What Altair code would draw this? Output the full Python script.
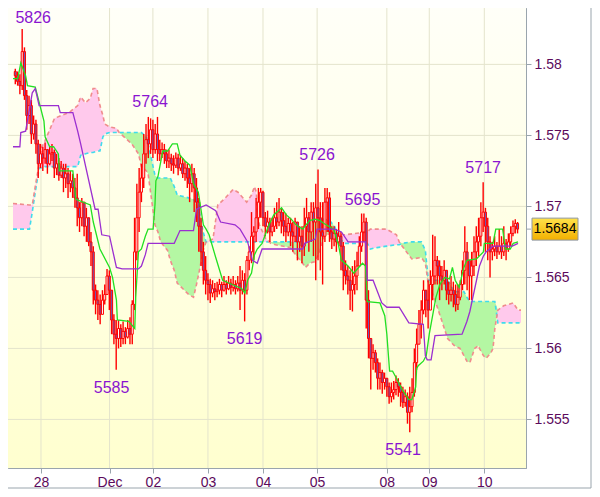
import altair as alt
import pandas as pd

# ---------------- data (prices in points: 5826 -> 1.5826) ----------------
first_open_pts = 5795
close_pts = [5792,5788,5785,5809,5778,5764,5771,5751,5758,5744,
             5730,5737,5734,5740,5730,5737,5738,5727,5730,5722,
             5727,5720,5723,5716,5718,5713,5706,5699,5692,5703,
             5686,5692,5675,5668,5641,5634,5631,5624,5634,5638,
             5651,5641,5620,5610,5607,5614,5607,5612,5608,5614,
             5610,5631,5668,5692,5710,5720,5737,5747,5744,5754,
             5740,5751,5740,5737,5740,5737,5732,5734,5730,5729,
             5734,5727,5730,5723,5727,5720,5716,5723,5713,5703,
             5686,5668,5655,5648,5645,5639,5642,5640,5641,5645,
             5641,5645,5642,5646,5643,5645,5642,5646,5641,5648,
             5641,5662,5668,5679,5682,5692,5703,5710,5692,5686,
             5689,5682,5686,5692,5689,5696,5690,5686,5682,5688,
             5682,5679,5689,5675,5679,5672,5686,5692,5682,5696,
             5689,5699,5692,5682,5679,5703,5706,5682,5677,5681,
             5675,5679,5672,5655,5651,5648,5641,5645,5651,5658,
             5672,5682,5689,5634,5607,5593,5597,5590,5579,5583,
             5576,5579,5573,5566,5569,5571,5576,5573,5569,5562,
             5566,5555,5559,5569,5590,5603,5617,5627,5641,5634,
             5627,5645,5651,5662,5658,5651,5648,5655,5641,5638,
             5641,5638,5631,5636,5645,5655,5668,5662,5651,5658,
             5668,5675,5679,5692,5696,5686,5675,5668,5670,5672,
             5668,5672,5668,5674,5670,5675,5681,5686,5688,5684]
high_pts = [5797,5795,5793,5825,5812,5782,5778,5775,5764,5761,
            5747,5744,5742,5745,5740,5742,5744,5740,5737,5734,
            5732,5730,5730,5727,5725,5723,5720,5723,5703,5706,
            5699,5699,5692,5682,5672,5645,5641,5638,5641,5645,
            5656,5655,5638,5624,5620,5620,5617,5619,5615,5620,
            5622,5634,5692,5716,5727,5730,5751,5758,5763,5762,
            5761,5758,5763,5747,5745,5744,5740,5740,5737,5736,
            5738,5737,5736,5734,5732,5730,5727,5730,5727,5720,
            5706,5692,5675,5665,5653,5649,5648,5646,5647,5649,
            5647,5651,5648,5651,5649,5651,5648,5651,5658,5655,
            5653,5665,5672,5696,5686,5706,5713,5713,5711,5696,
            5697,5692,5692,5699,5703,5706,5699,5696,5695,5692,
            5692,5689,5692,5689,5686,5686,5699,5706,5696,5703,
            5703,5716,5726,5703,5703,5713,5713,5710,5686,5686,
            5684,5689,5682,5675,5662,5658,5655,5658,5662,5668,
            5679,5695,5695,5692,5641,5607,5603,5599,5593,5590,
            5585,5583,5579,5576,5576,5577,5581,5579,5576,5573,
            5571,5569,5573,5579,5600,5614,5627,5634,5648,5641,
            5648,5655,5680,5679,5665,5662,5658,5662,5655,5647,
            5651,5647,5645,5645,5648,5662,5686,5675,5660,5668,
            5679,5686,5692,5703,5717,5699,5692,5679,5675,5679,
            5675,5684,5679,5686,5677,5681,5686,5690,5691,5689]
low_pts = [5786,5785,5779,5782,5775,5754,5758,5744,5747,5737,
           5720,5727,5725,5730,5723,5729,5732,5720,5722,5718,
           5720,5710,5713,5706,5710,5706,5699,5686,5682,5686,
           5679,5675,5672,5658,5631,5624,5620,5617,5624,5631,
           5638,5627,5610,5603,5585,5600,5601,5603,5603,5607,
           5603,5603,5627,5662,5682,5703,5713,5730,5734,5737,
           5734,5737,5732,5732,5734,5730,5727,5727,5725,5723,
           5727,5722,5725,5720,5718,5713,5703,5710,5696,5689,
           5668,5658,5645,5638,5634,5632,5636,5634,5636,5638,
           5636,5640,5638,5641,5638,5640,5638,5640,5627,5638,
           5619,5638,5655,5660,5662,5675,5684,5692,5686,5679,
           5681,5675,5679,5682,5684,5686,5681,5679,5675,5679,
           5672,5668,5675,5662,5668,5660,5665,5675,5668,5675,
           5665,5648,5662,5655,5645,5675,5682,5675,5670,5672,
           5668,5672,5655,5641,5645,5638,5627,5626,5638,5641,
           5658,5668,5675,5614,5593,5571,5585,5583,5571,5571,
           5568,5571,5566,5561,5562,5564,5567,5566,5559,5558,
           5559,5547,5541,5555,5566,5585,5603,5607,5624,5622,
           5614,5634,5634,5645,5645,5634,5641,5645,5634,5631,
           5633,5629,5626,5627,5634,5641,5645,5641,5634,5634,
           5651,5658,5665,5672,5682,5668,5662,5650,5662,5665,
           5663,5666,5663,5665,5662,5668,5672,5679,5681,5681]

tenkan_x = [-1, 1.1, 2.4, 4.5, 5.3, 8.7, 12.5, 13, 15, 16.7, 18.8, 19.2, 25.1, 26.4,
            32.7, 34, 36.9, 41.1, 42.4, 44.1,
            44.5, 49.5, 52.1, 52.5, 53.7, 55, 56.7, 57.9, 60.1, 60.9, 61.3, 62.2, 64.3, 66.4,
            68.5, 70.6, 71.8, 74, 76.1, 77.7, 79.8, 82, 83.2, 84.5, 87.4, 90.4, 94.6, 98.8,
            100.1, 101.3, 103, 104.3, 105.5, 107.6, 110.6, 112.7, 116.1, 118.2, 120.3, 122.4,
            125.3, 128.3, 130.8, 132.9, 134.6, 138.8, 140.9, 142.2, 145.1, 147.6, 149.7, 151.4,
            152.7, 153.5, 159, 161.1, 162, 163.2, 164.5, 166.2, 167.4, 168.7, 170.4, 171.6,
            172.9, 174.6, 175, 175.8, 177.9, 179.2, 180.5, 183.4, 185.1, 187.2, 189.3, 190.6,
            191.8, 193.5, 195.6, 196.9, 201.1, 204.1, 204.5, 208.3, 209.5, 212.5, 213.7, 215.8,
            217.1, 219.2]
tenkan_pts = [5790, 5790, 5801, 5792, 5785, 5784, 5760, 5749, 5742, 5742, 5737, 5725, 5725, 5705,
              5701, 5689, 5670, 5657, 5650, 5634,
              5620, 5619, 5614, 5636, 5668, 5670, 5679, 5684, 5684, 5701, 5718, 5721, 5739, 5739,
              5744, 5744, 5736, 5732, 5729, 5716, 5710, 5687, 5684, 5680, 5664, 5648, 5645, 5642,
              5639, 5648, 5653, 5666, 5670, 5674, 5687, 5694, 5699, 5694, 5691, 5687,
              5684, 5690, 5691, 5690, 5688, 5684, 5673, 5662, 5658, 5653, 5657, 5660,
              5658, 5633, 5632, 5623, 5610, 5584, 5584, 5579, 5575, 5571, 5567, 5564,
              5564, 5573, 5586, 5588, 5591, 5595, 5610, 5636, 5645, 5650, 5649, 5657,
              5648, 5643, 5657, 5662, 5663, 5668, 5674, 5674, 5684, 5684, 5670, 5670,
              5674, 5675]

kijun_x = [-1, 2, 2.4, 4.5, 7.4, 8.7, 10.4, 18.8, 19.6, 25.1, 27.2, 28.5, 34.8, 36.1, 37.7, 41.1,
           44.1, 46.6, 53.7, 55, 56.7, 57.9, 69.3, 71.8, 77.7, 79, 83.2, 87.4, 89.5, 95.8, 98,
           101.3, 103.4, 105.5, 107.6, 125.3, 126.2, 130.8, 131.6, 139.2, 142.2, 145.1, 152.7,
           153.5, 156, 159.8, 162, 167.4, 171.6, 177.9, 178.8, 179.6, 181.3, 183, 194.8, 196.9,
           198.2, 201.1, 202.4, 204.1, 205.3, 208.3, 216.7, 219.2]
kijun_pts = [5742, 5742, 5752, 5753, 5780, 5783, 5771, 5771, 5766, 5766, 5753, 5744, 5698, 5698, 5680, 5679,
             5657, 5656, 5656, 5658, 5666, 5674, 5674, 5683, 5683, 5698, 5701, 5697, 5689, 5687, 5684,
             5675, 5662, 5660, 5670, 5670, 5674, 5677, 5684, 5684, 5682, 5675, 5675,
             5648, 5648, 5632, 5629, 5629, 5618, 5617, 5595, 5592, 5592, 5609, 5610, 5619,
             5626, 5648, 5658, 5665, 5668, 5672, 5672, 5674]

cloud_x = [-1, 6.2, 7.4, 8.7, 10.4, 11.6, 12.9, 17.1, 20.1, 23.4, 27.2,
           28.5, 30.6, 32.7, 33.9, 35.6, 36.9, 38.2, 39, 41.1, 44.1,
           45.3, 47.4, 50.8, 53.7, 55, 57.1, 57.9, 60.9, 62.2, 63.4,
           66.4, 67.6, 69.3, 70.6, 75.6, 77.7, 79, 80.3, 81.9, 83.2,
           86.2, 88.3, 91.6, 95, 97.1, 100.9, 103, 104.3, 105.1, 105.5,
           106.4, 109.3, 111.4, 113.5, 119.8, 123.2, 125.3, 126.6, 128.3, 130.4,
           132.5, 133.7, 134.6, 137.1, 139.2, 141.3, 143.4, 153.5, 154.8, 157.7,
           161.9, 166.2, 167.4, 168.7, 172.9, 177.1, 178.8, 180.1, 181.3, 183,
           188.5, 191.4, 193.9, 195.6, 196.9, 198.2, 200.3, 201.9, 202.4, 204.1,
           205.3, 207.4, 208.3, 209.1, 210.4, 212.9, 215, 217.1, 219.2, 220.5]
senkou_a_pts = [5684, 5684, 5696, 5710, 5727, 5727, 5728, 5728, 5728, 5728, 5728,
                5736, 5737, 5738, 5738, 5739, 5739, 5749, 5751, 5752, 5752,
                5752, 5752, 5752, 5752, 5752, 5749, 5744, 5722, 5720, 5720,
                5720, 5720, 5714, 5708, 5706, 5705, 5701, 5696, 5682, 5675,
                5675, 5675, 5675, 5675, 5675, 5675, 5675, 5675, 5675, 5675,
                5675, 5675, 5675, 5675, 5675, 5675, 5675, 5681, 5687, 5690,
                5691, 5691, 5691, 5690, 5686, 5678, 5674, 5674, 5670, 5671,
                5672, 5673, 5673, 5674, 5675, 5675, 5669, 5648, 5648, 5648,
                5648, 5640, 5640, 5640, 5636, 5633, 5633, 5633, 5633, 5633,
                5633, 5633, 5633, 5633, 5618, 5618, 5618, 5618, 5618, 5618]
senkou_b_pts = [5702, 5701, 5701, 5714, 5730, 5742, 5746, 5762, 5764, 5766, 5771,
                5777, 5773, 5776, 5783, 5783, 5771, 5764, 5758, 5756, 5755,
                5752, 5749, 5744, 5737, 5728, 5725, 5723, 5687, 5682, 5675,
                5669, 5662, 5655, 5646, 5638, 5636, 5645, 5655, 5669, 5675,
                5677, 5701, 5706, 5712, 5710, 5703, 5708, 5714, 5710, 5696,
                5687, 5677, 5674, 5673, 5671, 5664, 5660, 5657, 5660, 5661,
                5667, 5674, 5679, 5681, 5681, 5680, 5680, 5682, 5684, 5684,
                5684, 5680, 5675, 5672, 5663, 5664, 5660, 5645, 5641, 5634,
                5607, 5602, 5600, 5595, 5591, 5590, 5600, 5602, 5600, 5595,
                5593, 5597, 5600, 5614, 5627, 5630, 5631, 5632, 5627, 5627]

tick_idx = [11.2, 41.1, 60, 84, 108, 131.6, 162, 180.5, 204.5]
tick_lab = ["28", "Dec", "02", "03", "04", "05", "08", "09", "10"]
price_ticks = [1.555, 1.56, 1.565, 1.57, 1.575, 1.58]

peak_text = ["5826", "5764", "5726", "5695", "5717", "5585", "5619", "5541"]
peak_x = [7.8, 58.8, 131.6, 151.4, 204, 42, 100, 169.1]
peak_pts = [5826, 5764, 5726, 5695, 5717, 5585, 5619, 5541]
peak_kind = ["top", "high", "high", "high", "high", "low", "low", "low"]

last_price = 1.5684


def P(v):
    return 1 + v / 10000.0


# ---------------- tables ----------------
closes = [P(v) for v in close_pts]
opens = [P(first_open_pts)] + closes[:-1]
rows = []
for i, (o, c, h, l) in enumerate(zip(opens, closes, high_pts, low_pts)):
    rows.append({"x": i, "open": o, "close": c,
                 "high": max(P(h), o, c), "low": min(P(l), o, c),
                 "down": c < o})
candles = pd.DataFrame(rows)

tenkan = pd.DataFrame({"x": tenkan_x, "v": [P(v) for v in tenkan_pts]})
kijun = pd.DataFrame({"x": kijun_x, "v": [P(v) for v in kijun_pts]})
cloud = pd.DataFrame({"x": cloud_x,
                      "a": [P(v) for v in senkou_a_pts],
                      "b": [P(v) for v in senkou_b_pts]})
cloud["top"] = cloud[["a", "b"]].max(axis=1)
ticks_df = pd.DataFrame({"x": tick_idx})
pticks_df = pd.DataFrame({"p": price_ticks})
peaks = pd.DataFrame({"x": peak_x, "p": [P(v) for v in peak_pts],
                      "t": peak_text, "k": peak_kind})
last_df = pd.DataFrame({"p": [last_price], "t": [f"{last_price:.4f}"]})

# ---------------- styling ----------------
W, H = 518, 460
FONT = "Liberation Sans"
AXC = "#9aa5ad"
LABC = "#5c0a5c"
GRID = "#e4e4cc"
PEAKC = "#8a14d0"

xs = alt.Scale(domain=[-1, 220.5], nice=False, zero=False)
ys = alt.Scale(domain=[1.55158, 1.58397], nice=False, zero=False)

label_expr = "[{}][indexof([{}], datum.value)]".format(
    ",".join("'%s'" % s for s in tick_lab), ",".join(str(v) for v in tick_idx))

x_axis = alt.Axis(values=tick_idx, labelExpr=label_expr, grid=False, title=None,
                  domainColor=AXC, tickColor=AXC, tickSize=5, labelFont=FONT,
                  labelFontSize=14, labelColor=LABC, labelPadding=2,
                  labelOverlap=False, labelFlush=False,
                  labelFontWeight={"condition": {"test": "datum.label == 'Dec'", "value": "bold"},
                                   "value": "normal"})
y_axis = alt.Axis(orient="right", values=price_ticks, format=".4~f", grid=False, title=None,
                  domainColor=AXC, tickColor=AXC, tickSize=5, labelFont=FONT,
                  labelFontSize=14, labelColor=LABC, labelPadding=3, labelOverlap=False)


def X(f):
    return alt.X(f, type="quantitative", scale=xs, axis=x_axis)


def Y(f):
    return alt.Y(f, type="quantitative", scale=ys, axis=y_axis)


bg = alt.Chart(last_df).mark_rect(
    fill={"gradient": "linear", "x1": 0, "y1": 0, "x2": 0, "y2": 1,
          "stops": [{"offset": 0, "color": "#fffff8"}, {"offset": 1, "color": "#ffffcf"}]}
).encode(x=alt.value(0), x2=alt.value(W), y=alt.value(0), y2=alt.value(H))

vgrid = alt.Chart(ticks_df).mark_rule(color=GRID, strokeWidth=1).encode(x=X("x"))
hgrid = alt.Chart(pticks_df).mark_rule(color=GRID, strokeWidth=1).encode(y=Y("p"))

pink = alt.Chart(cloud).mark_area(color="#ffc9ec", opacity=1).encode(x=X("x"), y=Y("a"), y2="top")
green = alt.Chart(cloud).mark_area(color="#b4f7a3", opacity=1).encode(x=X("x"), y=Y("b"), y2="top")
span_a = alt.Chart(cloud).mark_line(color="#3fdcec", strokeWidth=1.6, strokeDash=[4, 3]).encode(
    x=X("x"), y=Y("a"))
span_b = alt.Chart(cloud).mark_line(color="#f08c8c", strokeWidth=1.6, strokeDash=[4, 3]).encode(
    x=X("x"), y=Y("b"))

wicks = alt.Chart(candles).mark_rule(color="#ff0000", strokeWidth=1.4).encode(
    x=X("x"), y=Y("low"), y2="high")
bodies = alt.Chart(candles).mark_bar(size=2, stroke="#ff0000", strokeWidth=1).encode(
    x=X("x"), y=Y("open"), y2="close",
    fill=alt.condition("datum.down", alt.value("#6a5cb8"), alt.value("#ffffff")))

tk = alt.Chart(tenkan).mark_line(color="#22e022", strokeWidth=1.3).encode(x=X("x"), y=Y("v"))
kj = alt.Chart(kijun).mark_line(color="#9b2fd0", strokeWidth=1.3).encode(x=X("x"), y=Y("v"))


def peak_layer(kind, dy):
    return alt.Chart(peaks).transform_filter(f"datum.k == '{kind}'").mark_text(
        font=FONT, fontSize=16, color=PEAKC, baseline="middle", dy=dy).encode(
        x=X("x"), y=Y("p"), text="t:N")


top_lab = peak_layer("top", -9)
hi_lab = peak_layer("high", -14)
lo_lab = peak_layer("low", 18)

last_tick = alt.Chart(last_df).mark_rule(color=AXC, strokeWidth=1).encode(
    x=alt.value(W), x2=alt.value(W + 5), y=Y("p"))
last_box = alt.Chart(last_df).mark_point(
    shape="M -1 -0.478 L 1 -0.478 L 1 0.478 L -1 0.478 Z", size=2116, filled=True, opacity=1,
    fill={"gradient": "linear", "x1": 0, "y1": 0, "x2": 0, "y2": 1,
          "stops": [{"offset": 0, "color": "#ffe24a"}, {"offset": 1, "color": "#f2b000"}]},
    stroke="#8f969c", strokeWidth=1).encode(x=alt.value(W + 29), y=Y("p"))
last_txt = alt.Chart(last_df).mark_text(font=FONT, fontSize=14, color="#000000",
                                        baseline="middle", align="center").encode(
    x=alt.value(W + 29), y=Y("p"), text="t:N")

frame_r = alt.Chart(last_df).mark_rule(color=AXC, strokeWidth=1).encode(
    x=alt.value(W + 65), y=alt.value(0), y2=alt.value(H + 20))
frame_b = alt.Chart(last_df).mark_rule(color=AXC, strokeWidth=1).encode(
    x=alt.value(0), x2=alt.value(W + 65), y=alt.value(H + 20))

chart = alt.layer(
    bg, vgrid, hgrid, pink, green, span_a, span_b, wicks, bodies, tk, kj,
    top_lab, hi_lab, lo_lab, last_tick, last_box, last_txt, frame_r, frame_b
).properties(
    width=W, height=H,
    autosize=alt.AutoSizeParams(type="none"),
    padding={"left": 0, "top": 0, "right": 66, "bottom": 21},
    background="#ffffff",
).configure_view(stroke=AXC, strokeWidth=1)

chart.save("out.html", embed_options={"renderer": "svg", "actions": False})
